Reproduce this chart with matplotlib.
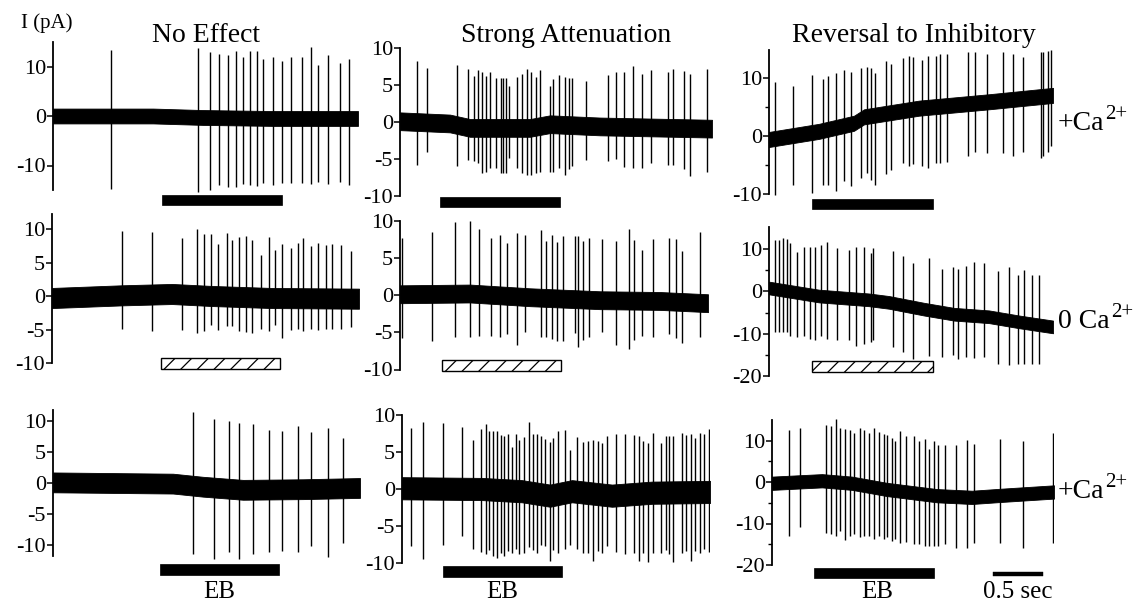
import matplotlib
matplotlib.use("Agg")
import matplotlib.pyplot as plt
from matplotlib.patches import Rectangle

plt.rcParams['font.family'] = ['Liberation Serif', 'DejaVu Serif']
plt.rcParams['hatch.linewidth'] = 0.9

# ---------------------------------------------------------------- data
col_titles = ["No Effect", "Strong Attenuation", "Reversal to Inhibitory"]
row_labels = ["+Ca", "0 Ca", "+Ca"]
row_label_sup = "2+"
y_unit = "I (pA)"
stim_label = "EB"
scale_label = "0.5 sec"
scale_len = 0.5  # s

# row 1, col 1  (No Effect, +Ca2+)
p11_t_end = 3.05
p11_base_t = [0, 1.0, 1.5, 2.2, 3.05]
p11_base_v = [0.0, 0.0, -0.3, -0.5, -0.5]
p11_noise = 1.5
p11_spike_t = [0.58, 1.45, 1.57, 1.66, 1.75, 1.83, 1.90, 1.97, 2.04, 2.10, 2.20, 2.29, 2.38, 2.49, 2.58, 2.65, 2.75, 2.87, 2.96]
p11_spike_top = [13.4, 13.7, 13.0, 12.5, 12.4, 13.1, 12.0, 13.2, 13.2, 11.5, 12.0, 11.2, 12.0, 12.0, 13.9, 10.4, 12.3, 10.7, 11.5]
p11_spike_bot = [-14.8, -15.3, -15.0, -14.0, -14.4, -14.4, -13.8, -14.0, -14.2, -13.5, -14.0, -13.5, -13.6, -13.5, -13.8, -13.3, -13.8, -13.3, -14.0]
p11_stim = [1.09, 2.29]
p11_ticks = [-10, 0, 10]

# row 1, col 2  (Strong Attenuation, +Ca2+)
p12_t_end = 3.12
p12_base_t = [0, 0.5, 0.7, 1.3, 1.5, 2.0, 3.12]
p12_base_v = [0.1, -0.2, -0.8, -0.8, -0.3, -0.6, -0.9]
p12_noise = 1.2
p12_spike_t = [0.17, 0.27, 0.57, 0.68, 0.74, 0.78, 0.82, 0.86, 0.90, 0.96, 1.01, 1.03, 1.06, 1.09, 1.17, 1.22, 1.27, 1.31, 1.36, 1.40,
               1.50, 1.53, 1.59, 1.65, 1.69, 1.72, 1.86, 2.08, 2.16, 2.24, 2.33, 2.42, 2.51, 2.68, 2.73, 2.84, 2.90, 3.07]
p12_spike_top = [8.3, 7.3, 7.7, 7.1, 6.2, 7.0, 6.7, 6.2, 6.8, 5.9, 6.0, 5.9, 6.0, 4.9, 6.1, 6.5, 7.2, 6.7, 6.1, 7.0,
                 4.8, 5.8, 6.4, 6.1, 6.0, 6.0, 5.6, 6.4, 6.7, 6.8, 7.6, 6.5, 7.0, 6.7, 7.1, 6.9, 6.5, 7.2]
p12_spike_bot = [-5.8, -4.0, -6.0, -5.1, -5.3, -5.6, -6.9, -6.7, -6.2, -6.2, -6.9, -6.9, -6.9, -4.9, -6.2, -6.9, -7.2, -7.1, -6.9, -6.7,
                 -6.8, -6.8, -6.2, -7.1, -6.4, -6.0, -5.1, -5.3, -5.0, -6.1, -6.2, -6.2, -5.6, -5.8, -5.8, -6.4, -7.3, -6.7]
p12_stim = [0.40, 1.60]
p12_ticks = [-10, -5, 0, 5, 10]

# row 1, col 3  (Reversal to Inhibitory, +Ca2+)
p13_t_end = 2.84
p13_base_t = [0, 0.5, 0.85, 0.95, 1.5, 2.2, 2.84]
p13_base_v = [-0.6, 0.8, 2.2, 3.3, 4.8, 5.9, 7.0]
p13_noise = 1.3
p13_spike_t = [0.06, 0.24, 0.43, 0.54, 0.59, 0.67, 0.75, 0.82, 0.92, 0.98, 1.02, 1.06, 1.17, 1.22, 1.34, 1.40,
               1.44, 1.53, 1.59, 1.67, 1.71, 1.78, 1.99, 2.06, 2.18, 2.34, 2.44, 2.54, 2.72, 2.74, 2.79, 2.82]
p13_spike_top = [9.3, 8.7, 10.6, 9.8, 10.4, 10.8, 11.3, 11.1, 11.8, 11.9, 11.8, 10.8, 13.0, 12.4, 13.4, 13.8,
                 13.6, 13.1, 13.8, 13.8, 14.1, 14.2, 14.4, 14.4, 14.2, 14.4, 14.1, 13.6, 14.4, 14.4, 14.7, 14.9]
p13_spike_bot = [-10.1, -8.4, -9.8, -8.4, -8.4, -9.5, -7.8, -8.6, -7.2, -6.4, -7.5, -8.4, -6.6, -5.8, -4.7, -5.2,
                 -4.9, -5.2, -5.5, -4.7, -4.7, -4.4, -3.5, -2.7, -3.0, -3.0, -3.5, -2.7, -3.8, -3.5, -2.7, -1.8]
p13_stim = [0.43, 1.64]
p13_ticks = [-10, 0, 10]

# row 2, col 1  (No Effect, 0 Ca2+)
p21_t_end = 3.07
p21_base_t = [0, 0.7, 1.2, 1.6, 2.2, 3.07]
p21_base_v = [-0.3, 0.1, 0.3, 0.0, -0.3, -0.4]
p21_noise = 1.5
p21_spike_t = [0.70, 1.00, 1.30, 1.45, 1.52, 1.59, 1.66, 1.75, 1.80, 1.87, 1.94, 2.00, 2.09, 2.17, 2.23, 2.30,
               2.39, 2.46, 2.51, 2.59, 2.66, 2.74, 2.80, 2.89, 2.99]
p21_spike_top = [9.7, 9.5, 8.6, 10.0, 9.2, 9.2, 7.8, 9.4, 8.4, 8.8, 9.0, 8.4, 6.1, 8.8, 6.9, 7.8,
                 7.2, 7.9, 8.6, 7.4, 7.9, 7.6, 7.8, 7.6, 6.7]
p21_spike_bot = [-4.9, -5.2, -5.0, -5.5, -5.2, -4.3, -5.0, -4.5, -4.5, -5.2, -5.4, -5.5, -4.9, -5.2, -4.3, -6.2,
                 -5.1, -4.9, -5.2, -4.9, -5.0, -4.9, -4.9, -4.9, -4.7]
p21_stim = [1.09, 2.28]
p21_ticks = [-10, -5, 0, 5, 10]

# row 2, col 2  (Strong Attenuation, 0 Ca2+)
p22_t_end = 3.08
p22_base_t = [0, 0.7, 1.3, 2.0, 2.6, 3.08]
p22_base_v = [0.1, 0.2, -0.3, -0.7, -0.8, -1.1]
p22_noise = 1.2
p22_spike_t = [0.02, 0.32, 0.55, 0.70, 0.79, 0.91, 1.00, 1.07, 1.17, 1.25, 1.41, 1.46, 1.52, 1.57, 1.63,
               1.75, 1.78, 1.83, 1.89, 2.02, 2.16, 2.29, 2.34, 2.42, 2.53, 2.69, 2.76, 2.82, 3.00]
p22_spike_top = [7.6, 8.4, 9.8, 10.0, 8.9, 7.6, 8.1, 7.0, 8.3, 8.1, 8.7, 7.2, 8.1, 7.1, 7.9,
                 7.9, 7.9, 7.2, 7.7, 7.5, 7.2, 8.8, 7.4, 6.1, 7.5, 7.6, 7.5, 5.9, 8.4]
p22_spike_bot = [-5.8, -6.2, -5.6, -5.6, -5.5, -5.5, -5.6, -5.3, -6.7, -4.9, -5.6, -5.6, -5.9, -6.2, -6.2,
                 -5.1, -7.0, -6.0, -5.6, -4.9, -6.7, -7.3, -6.0, -5.5, -5.6, -5.3, -5.8, -6.5, -5.6]
p22_stim = [0.42, 1.61]
p22_ticks = [-10, -5, 0, 5, 10]

# row 2, col 3  (Reversal to Inhibitory, 0 Ca2+)
p23_t_end = 2.84
p23_base_t = [0, 0.5, 1.0, 1.2, 1.55, 1.85, 2.2, 2.5, 2.84]
p23_base_v = [0.8, -1.1, -2.0, -2.6, -4.2, -5.4, -6.0, -7.2, -8.4]
p23_noise = 1.5
p23_spike_t = [0.06, 0.10, 0.14, 0.18, 0.21, 0.28, 0.35, 0.41, 0.46, 0.52, 0.58, 0.68, 0.80, 0.87, 0.95, 1.02, 1.04,
               1.24, 1.34, 1.44, 1.60, 1.73, 1.84, 1.89, 1.97, 2.05, 2.15, 2.29, 2.40, 2.49, 2.55, 2.63, 2.70]
p23_spike_top = [12.2, 12.2, 12.7, 12.3, 11.4, 9.3, 10.6, 10.6, 10.6, 11.0, 11.6, 10.2, 9.8, 10.4, 10.4, 9.1, 10.2,
                 9.5, 8.4, 6.7, 7.9, 5.2, 5.8, 5.3, 5.9, 7.0, 6.7, 4.8, 5.8, 3.8, 5.0, 3.8, 3.8]
p23_spike_bot = [-9.7, -9.7, -9.5, -9.7, -10.5, -10.9, -10.5, -11.3, -11.4, -10.6, -11.3, -11.4, -11.6, -12.8, -12.4, -11.9, -11.6,
                 -13.2, -14.4, -15.9, -15.2, -15.5, -15.0, -15.9, -15.5, -15.8, -15.5, -17.1, -17.5, -17.1, -17.1, -17.1, -17.1]
p23_stim = [0.43, 1.64]
p23_ticks = [-20, -10, 0, 10]

# row 3, col 1  (No Effect, +Ca2+)
p31_t_end = 3.07
p31_base_t = [0, 1.2, 1.5, 1.9, 2.5, 3.07]
p31_base_v = [0.1, -0.1, -0.6, -1.1, -1.0, -0.8]
p31_noise = 1.6
p31_spike_t = [1.40, 1.61, 1.76, 1.86, 2.00, 2.16, 2.29, 2.45, 2.58, 2.75, 2.90]
p31_spike_top = [11.5, 10.3, 10.0, 9.6, 9.5, 8.6, 8.4, 9.2, 8.2, 8.9, 7.2]
p31_spike_bot = [-11.5, -12.2, -11.2, -12.2, -11.4, -11.2, -11.0, -11.1, -10.2, -12.0, -9.7]
p31_stim = [1.07, 2.26]
p31_ticks = [-10, -5, 0, 5, 10]

# row 3, col 2  (Strong Attenuation, +Ca2+)
p32_t_end = 3.08
p32_base_t = [0, 0.8, 1.2, 1.48, 1.7, 2.1, 2.5, 3.08]
p32_base_v = [0.1, 0.0, -0.3, -0.9, -0.3, -0.9, -0.5, -0.4]
p32_noise = 1.5
p32_spike_t = [0.09, 0.21, 0.41, 0.60, 0.71, 0.79, 0.84, 0.87, 0.91, 0.95, 0.99, 1.02, 1.06, 1.10, 1.14, 1.17, 1.22, 1.27,
               1.31, 1.35, 1.39, 1.43, 1.48, 1.51, 1.56, 1.63, 1.68, 1.75, 1.81, 1.86, 1.91, 1.96, 2.00, 2.05, 2.14, 2.23,
               2.32, 2.37, 2.41, 2.46, 2.51, 2.59, 2.64, 2.67, 2.71, 2.80, 2.84, 2.89, 2.93, 2.98, 3.02, 3.07]
p32_spike_top = [8.2, 9.0, 8.9, 8.4, 6.6, 8.1, 8.8, 7.8, 7.8, 7.8, 7.3, 7.1, 7.4, 5.7, 7.5, 6.6, 7.0, 9.0,
                 7.5, 7.5, 7.1, 6.7, 6.4, 6.9, 7.9, 8.0, 5.3, 7.0, 6.4, 6.5, 6.6, 6.5, 6.2, 7.1, 7.4, 7.4,
                 7.3, 7.1, 6.5, 6.2, 7.6, 6.2, 7.1, 7.1, 7.1, 7.6, 7.3, 7.4, 6.9, 7.6, 7.5, 8.1]
p32_spike_bot = [-7.7, -9.4, -7.6, -6.3, -8.1, -8.5, -8.8, -8.3, -9.1, -9.3, -8.6, -9.1, -8.4, -8.7, -8.1, -8.8, -8.6, -7.9,
                 -8.2, -8.6, -7.6, -7.7, -9.7, -8.2, -8.6, -8.1, -7.6, -8.1, -8.6, -8.7, -9.7, -8.4, -8.7, -7.7, -8.5, -8.8,
                 -8.7, -9.7, -8.6, -9.9, -8.6, -8.6, -8.3, -8.8, -9.9, -8.6, -8.4, -9.7, -8.4, -8.6, -8.1, -8.5]
p32_stim = [0.41, 1.60]
p32_ticks = [-10, -5, 0, 5, 10]

# row 3, col 3  (Reversal to Inhibitory, +Ca2+)
p33_t_end = 2.82
p33_base_t = [0, 0.5, 0.8, 1.15, 1.65, 2.0, 2.3, 2.82]
p33_base_v = [-0.3, 0.3, -0.3, -1.8, -3.3, -3.7, -3.2, -2.4]
p33_noise = 1.6
p33_spike_t = [0.17, 0.28, 0.54, 0.59, 0.64, 0.68, 0.73, 0.78, 0.82, 0.88, 0.92, 0.97, 1.02, 1.07, 1.12, 1.15, 1.20,
               1.23, 1.28, 1.34, 1.42, 1.47, 1.53, 1.57, 1.62, 1.66, 1.73, 1.84, 1.95, 2.02, 2.28, 2.51, 2.81]
p33_spike_top = [12.5, 13.0, 13.8, 13.6, 15.2, 13.0, 12.8, 12.6, 11.8, 13.0, 12.5, 11.7, 12.9, 12.0, 11.6, 11.3, 10.6,
                 10.0, 12.2, 11.0, 11.2, 10.0, 10.4, 8.0, 10.0, 9.0, 8.8, 9.0, 10.2, 9.2, 10.4, 9.8, 11.7]
p33_spike_bot = [-12.9, -10.9, -12.4, -12.6, -13.0, -11.8, -14.0, -13.0, -12.6, -13.2, -12.9, -13.0, -13.8, -13.0, -13.8, -13.3, -14.2,
                 -13.8, -14.6, -14.4, -15.0, -15.0, -15.4, -15.4, -15.4, -15.4, -15.0, -16.0, -16.0, -14.8, -14.8, -15.8, -14.6]
p33_stim = [0.42, 1.62]
p33_ticks = [-20, -10, 0, 10]

panels = [
    (p11_t_end, p11_base_t, p11_base_v, p11_noise, p11_spike_t, p11_spike_top, p11_spike_bot, p11_stim, p11_ticks),
    (p12_t_end, p12_base_t, p12_base_v, p12_noise, p12_spike_t, p12_spike_top, p12_spike_bot, p12_stim, p12_ticks),
    (p13_t_end, p13_base_t, p13_base_v, p13_noise, p13_spike_t, p13_spike_top, p13_spike_bot, p13_stim, p13_ticks),
    (p21_t_end, p21_base_t, p21_base_v, p21_noise, p21_spike_t, p21_spike_top, p21_spike_bot, p21_stim, p21_ticks),
    (p22_t_end, p22_base_t, p22_base_v, p22_noise, p22_spike_t, p22_spike_top, p22_spike_bot, p22_stim, p22_ticks),
    (p23_t_end, p23_base_t, p23_base_v, p23_noise, p23_spike_t, p23_spike_top, p23_spike_bot, p23_stim, p23_ticks),
    (p31_t_end, p31_base_t, p31_base_v, p31_noise, p31_spike_t, p31_spike_top, p31_spike_bot, p31_stim, p31_ticks),
    (p32_t_end, p32_base_t, p32_base_v, p32_noise, p32_spike_t, p32_spike_top, p32_spike_bot, p32_stim, p32_ticks),
    (p33_t_end, p33_base_t, p33_base_v, p33_noise, p33_spike_t, p33_spike_top, p33_spike_bot, p33_stim, p33_ticks),
]

# ---------------------------------------------------------------- layout (pixels)
W, H = 1139, 604
PX_PER_S = 100
# x of axis, y of 0 pA, px per pA, spine low, spine high, bar top px, bar bottom px, hatched, minor ticks
layout = [
    (53, 116, 4.95, -15, 14.9, 195, 205, False, []),
    (400, 122, 7.4, -10, 10, 197, 207, False, []),
    (769, 136, 5.8, -10, 14.9, 199, 209, False, [-5, 5]),
    (52, 296, 6.7, -10, 12.2, 358, 369, True, []),
    (400, 295, 7.45, -10, 10, 360, 371, True, []),
    (769, 292, 4.27, -20, 15.2, 362, 373, True, [-15, -5, 5]),
    (53, 483, 6.2, -11.8, 11.8, 564, 575, False, []),
    (402, 489, 7.4, -10, 10, 566, 577, False, []),
    (772, 482, 4.15, -20, 14.9, 568, 578, False, [-15, -5, 5]),
]

fig = plt.figure(figsize=(W / 100, H / 100), dpi=100)
fig.patch.set_facecolor('white')

axes = []
for (t_end, bt, bv, nz, st, stop, sbot, stim, ticks), (x0, y0, ppa, slo, shi, btop, bbot, hatched, minor) in zip(panels, layout):
    top_px = y0 - ppa * shi - 3
    bot_px = bbot + 3
    right_px = x0 + PX_PER_S * t_end
    ax = fig.add_axes([x0 / W, 1 - bot_px / H, (right_px - x0) / W, (bot_px - top_px) / H])
    ax.set_xlim(0, t_end)
    ax.set_ylim((y0 - bot_px) / ppa, (y0 - top_px) / ppa)
    ax.patch.set_alpha(0)
    for s in ['top', 'right', 'bottom']:
        ax.spines[s].set_visible(False)
    ax.spines['left'].set_bounds(slo, shi)
    ax.spines['left'].set_linewidth(1.3)
    ax.set_xticks([])
    ax.set_yticks(ticks)
    ax.set_yticklabels([str(v) for v in ticks])
    ax.set_yticks(minor, minor=True)
    ax.tick_params(axis='y', which='major', direction='out', length=4, width=1.1, pad=1, labelsize=16)
    ax.tick_params(axis='y', which='minor', direction='out', length=3, width=1.0)

    lo = [v - nz for v in bv]
    hi = [v + nz for v in bv]
    ax.fill_between(bt, lo, hi, color='black', lw=0.6)
    ax.vlines(st, sbot, stop, color='black', lw=1.0)

    v_top = (y0 - btop) / ppa
    v_bot = (y0 - bbot) / ppa
    if hatched:
        ax.add_patch(Rectangle((stim[0], v_bot), stim[1] - stim[0], v_top - v_bot,
                               facecolor='white', edgecolor='black', lw=1.0, hatch='//'))
    else:
        ax.add_patch(Rectangle((stim[0], v_bot), stim[1] - stim[0], v_top - v_bot,
                               facecolor='black', edgecolor='black', lw=0.5))
    axes.append((ax, y0, ppa))

# scale bar in last panel
ax9, y09, ppa9 = axes[-1]
sb_start = 2.21
ax9.add_patch(Rectangle((sb_start, (y09 - 576) / ppa9), scale_len, 4 / ppa9,
                        facecolor='black', edgecolor='black', lw=0.3))


def ftext(x, y, s, **kw):
    return fig.text(x / W, 1 - y / H, s, **kw)


ftext(21, 28, y_unit, ha='left', va='baseline', fontsize=15)
for cx, title in zip([206, 566, 914], col_titles):
    ftext(cx, 42, title, ha='center', va='baseline', fontsize=20)

renderer = fig.canvas.get_renderer()
for cy, lab in zip([130, 328, 498], row_labels):
    t = ftext(1058, cy, lab, ha='left', va='baseline', fontsize=20)
    bb = t.get_window_extent(renderer=renderer)
    ftext(bb.x1 + 1, cy - 11, row_label_sup, ha='left', va='baseline', fontsize=15)

for cx in [219, 502, 877]:
    ftext(cx, 598, stim_label, ha='center', va='baseline', fontsize=18)
ftext(1018, 598, scale_label, ha='center', va='baseline', fontsize=18)

fig.savefig("out.png", dpi=100)
